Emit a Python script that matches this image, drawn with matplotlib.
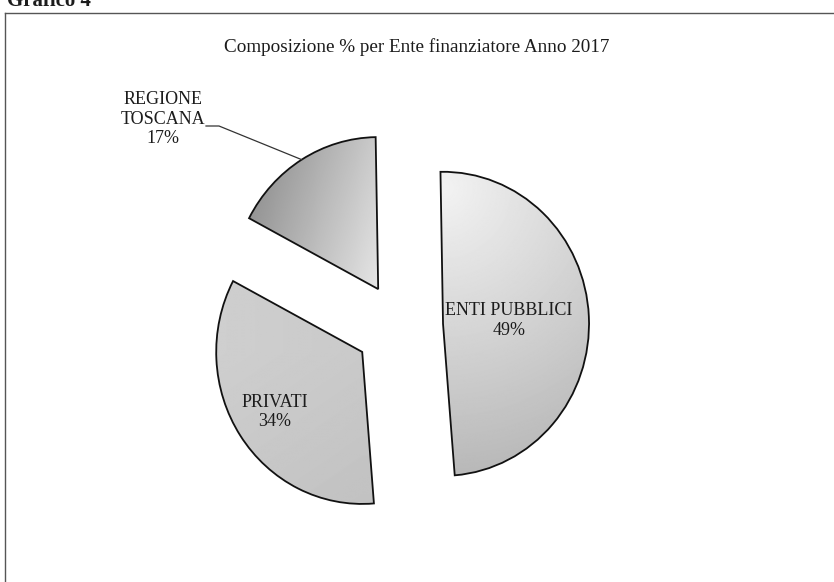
import numpy as np
import matplotlib
matplotlib.use("Agg")
import matplotlib.pyplot as plt

# ---- data ----
labels = ["ENTI PUBBLICI", "PRIVATI", "REGIONE\nTOSCANA"]
values = [49, 34, 17]
title = "Composizione % per Ente finanziatore Anno 2017"
heading = "Grafico 4"

# ---- style ----
explode = [0.295, 0.31, 0.285]
label_dist = [0.45, 0.72, None]
SERIF = ["Liberation Serif", "DejaVu Serif"]
TXT = "#1c1c1c"

W, H = 834, 582
SX, SY = 146.0, 152.0      # px per data unit (scan is slightly squashed)
CX, CY = 400.0, 326.0      # pie centre in image px

fig = plt.figure(figsize=(W / 100, H / 100), dpi=100)
ax = fig.add_axes([0, 0, 1, 1])

wedges, _ = ax.pie(values, explode=explode, startangle=91, counterclock=False,
                   radius=1.0, center=(0, 0),
                   wedgeprops=dict(edgecolor="#111111", linewidth=1.3, facecolor="none"))


def g_enti(u, v):
    d = np.sqrt(u ** 2 + (v - 0.9) ** 2)
    return np.clip(0.95 - 0.12 * d, 0.70, 1)


def g_priv(u, v):
    return 0.79 - 0.03 * np.clip(-v, 0, 1) + 0.02 * np.clip(-u, 0, 1)


def g_tosc(u, v):
    return 0.90 - 0.34 * np.clip(-0.9 * u + 0.3 * v, 0, 1)


funcs = [g_enti, g_priv, g_tosc]
for w, f in zip(wedges, funcs):
    cx, cy = w.center
    r = w.r
    n = 300
    xs = np.linspace(cx - r, cx + r, n)
    ys = np.linspace(cy - r, cy + r, n)
    X, Y = np.meshgrid(xs, ys)
    Z = f((X - cx) / r, (Y - cy) / r)
    im = ax.imshow(Z, extent=(cx - r, cx + r, cy - r, cy + r), origin="lower",
                   cmap="gray", vmin=0, vmax=1, interpolation="bilinear", zorder=0.5)
    im.set_clip_path(w)
    w.set_zorder(1)

# labels
FS = 13
for i, w in enumerate(wedges):
    mid = np.deg2rad((w.theta1 + w.theta2) / 2)
    cx, cy = w.center
    pct = f"{values[i]}%"
    if label_dist[i] is not None:
        d = label_dist[i]
        ax.text(cx + d * np.cos(mid), cy + d * np.sin(mid), f"{labels[i]}\n{pct}",
                ha="center", va="center", fontsize=FS, family=SERIF, color=TXT,
                linespacing=1.2, zorder=3)
    else:
        # outside label with leader line
        tx, ty = (163 - CX) / SX, (CY - 119) / SY
        ax.text(tx, ty, f"{labels[i]}\n{pct}", ha="center", va="center",
                fontsize=FS, family=SERIF, color=TXT, linespacing=1.2, zorder=3)
        arc_pt = (cx + np.cos(mid), cy + np.sin(mid))
        start = ((206 - CX) / SX, (CY - 126) / SY)
        knee = ((219 - CX) / SX, (CY - 126) / SY)
        ax.plot([start[0], knee[0], arc_pt[0]], [start[1], knee[1], arc_pt[1]],
                color="#333333", lw=0.9, zorder=3)

ax.set_xlim(-CX / SX, (W - CX) / SX)
ax.set_ylim(-(H - CY) / SY, CY / SY)
ax.set_aspect("auto")
ax.axis("off")

# title and heading
fig.text(417 / W, 1 - 47 / H, title, ha="center", va="center", fontsize=13.8,
         family=SERIF, color=TXT)
fig.text(7 / W, 1 - 6 / H, heading, ha="left", va="baseline", fontsize=15,
         family=SERIF, fontweight="bold", color=TXT)

# frame lines (scanned box)
top = 1 - 13 / H
left = 5 / W
fig.add_artist(plt.Line2D([left, 1], [top, top], color="#555555", lw=1.0,
                          transform=fig.transFigure))
fig.add_artist(plt.Line2D([left, left], [0, top], color="#555555", lw=1.0,
                          transform=fig.transFigure))

fig.savefig("out.png", dpi=100, facecolor="white")
